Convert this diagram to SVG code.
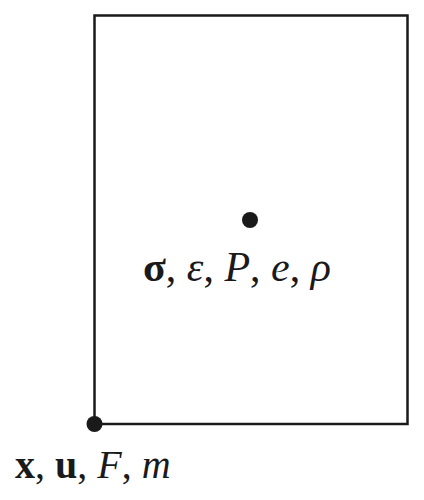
<svg xmlns="http://www.w3.org/2000/svg" width="424" height="500" viewBox="0 0 424 500">
<style>
.t{font-family:"Liberation Serif","DejaVu Serif",serif;font-size:40px;fill:#1a1a1a}
.c{font-size:42px}
.b{font-weight:bold;font-style:normal}
.i{font-style:italic}
</style>
<rect width="424" height="500" fill="#fff"/>
<g id="cell"><rect x="94.5" y="15.5" width="313" height="408.5" fill="none" stroke="#1a1a1a" stroke-width="2.5"/></g>
<g id="center">
<circle cx="250" cy="220" r="8" fill="#1a1a1a"/>
<text class="t c" x="143" y="281"><tspan class="b">σ</tspan>, <tspan class="i">ε</tspan>, <tspan class="i">P</tspan>, <tspan class="i">e</tspan>, <tspan class="i">ρ</tspan></text>
</g>
<g id="corner">
<circle cx="94.5" cy="424" r="8" fill="#1a1a1a"/>
<text class="t" x="15" y="478"><tspan class="b">x</tspan>, <tspan class="b">u</tspan>, <tspan class="i">F</tspan>, <tspan class="i">m</tspan></text>
</g>
</svg>
